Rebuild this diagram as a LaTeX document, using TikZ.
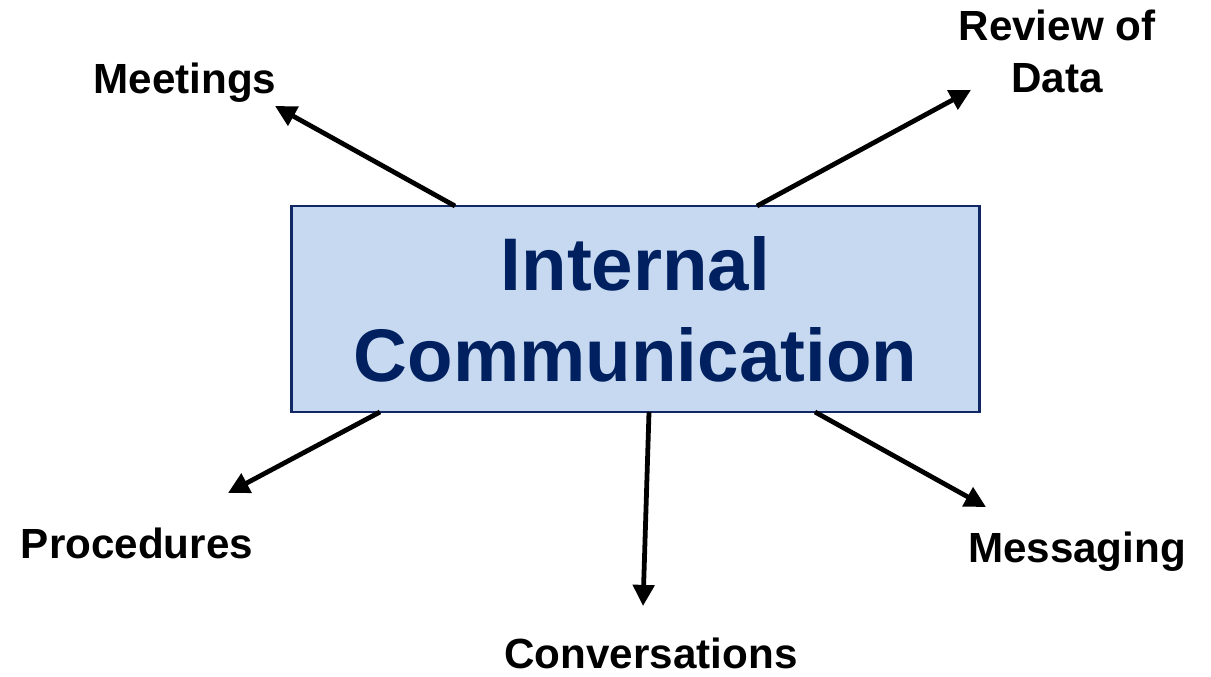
\documentclass[tikz,border=0pt]{standalone}
\usepackage{fontspec}
\setmainfont{Liberation Sans}
\definecolor{boxfill}{RGB}{198, 217, 241}
\definecolor{navy}{RGB}{0, 32, 96}
\definecolor{boxline}{RGB}{18, 40, 100}
\usetikzlibrary{arrows.meta, calc}

\begin{document}
\begin{tikzpicture}[x=0.025cm, y=-0.025cm,
    lbl/.style={font=\fontsize{30}{37}\selectfont\bfseries, align=center, inner sep=0pt},
    arr/.style={line width=3.4pt, -{Triangle[length=15pt, width=15pt]}}]
  \useasboundingbox (0,0) rectangle (1211,677);

  % Central box
  \node[draw=boxline, line width=1.8pt, fill=boxfill, minimum width=17.2cm, minimum height=5.15cm,
        align=center, text=navy, font=\fontsize{53}{64.7}\selectfont\bfseries] (box) at (635.5,309)
    {Internal\\Communication};

  % Surrounding labels
  \node[lbl, anchor=base] (mtg) at (185,93) {Meetings};
  \node[lbl] (rev) at (1057,51) {Review of\\Data};
  \node[lbl, anchor=base] (proc) at (137,558) {Procedures};
  \node[lbl, anchor=base] (conv) at (651,668) {Conversations};
  \node[lbl, anchor=base] (msg) at (1077,562) {Messaging};

  % Arrow ends
  \coordinate (mtgfrom) at (455,206);
  \coordinate (mtgtip) at (275,106);
  \coordinate (revfrom) at (757,206);
  \coordinate (revtip) at (971,90);
  \coordinate (procfrom) at (380,412);
  \coordinate (proctip) at (228,493);
  \coordinate (convfrom) at (649,412);
  \coordinate (convtip) at (643,606);
  \coordinate (msgfrom) at (815,412);
  \coordinate (msgtip) at (986,507);

  \draw[arr] (mtgfrom) -- (mtgtip);
  \draw[arr] (revfrom) -- (revtip);
  \draw[arr] (procfrom) -- (proctip);
  \draw[arr] (convfrom) -- (convtip);
  \draw[arr] (msgfrom) -- (msgtip);
\end{tikzpicture}
\end{document}
